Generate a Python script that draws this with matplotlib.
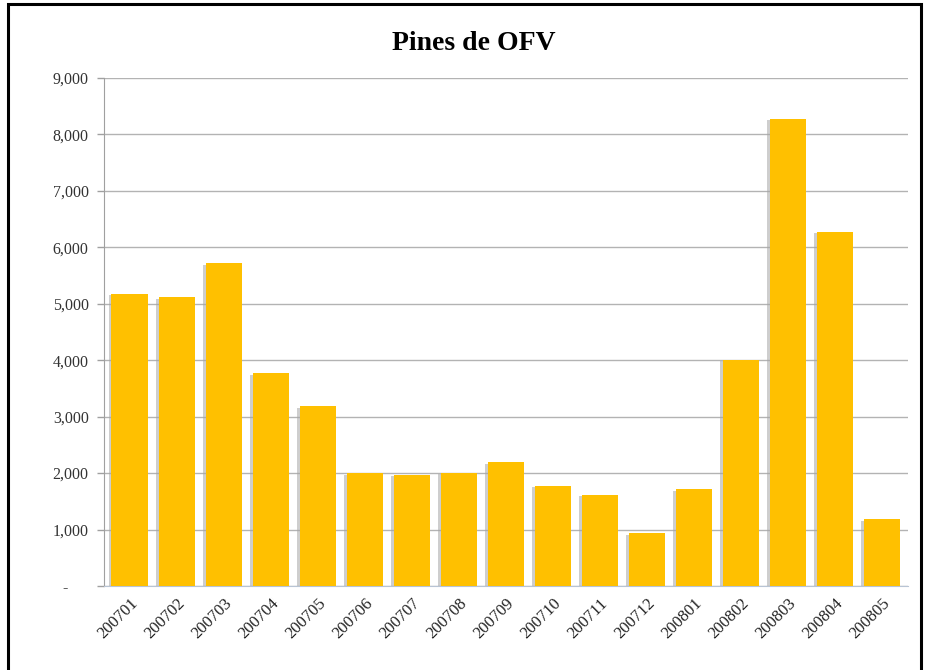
import matplotlib.pyplot as plt
import numpy as np
from matplotlib.ticker import FuncFormatter
from matplotlib.patches import Rectangle

periods = ['200701', '200702', '200703', '200704', '200705', '200706',
           '200707', '200708', '200709', '200710', '200711', '200712',
           '200801', '200802', '200803', '200804', '200805']
pines = [5180, 5120, 5720, 3770, 3180, 2000, 1970, 2010, 2190, 1780,
         1620, 930, 1710, 4010, 8280, 6280, 1180]

plt.rcParams['font.family'] = ['Liberation Serif', 'DejaVu Serif']

fig = plt.figure(figsize=(9.3, 6.7), dpi=100)
ax = fig.add_axes([0.1118, 0.1254, 0.8645, 0.7582])

x = np.arange(len(periods))
# grey drop shadow to the left of each bar
ax.bar(x - 0.06, np.array(pines) - 30, width=0.78, color='#a6a6a6', alpha=0.55, zorder=2)
ax.bar(x, pines, width=0.78, color='#FFC000', zorder=3)

ax.set_xlim(-0.55, len(periods) - 0.45)
ax.set_ylim(0, 9000)
ax.set_yticks(np.arange(0, 9001, 1000))
# accounting style: zero shown as a dash, set in from the right
ax.yaxis.set_major_formatter(FuncFormatter(lambda v, p: '-     ' if v == 0 else f'{int(v):,}'))
ax.grid(axis='y', color='#b3b3b3', linewidth=1, zorder=0)

ax.set_xticks(x)
ax.set_xticklabels(periods, rotation=45, ha='right', rotation_mode='anchor',
                   fontsize=12, color='#222222')
ax.tick_params(axis='x', length=0, pad=7)
ax.tick_params(axis='y', length=5, width=1, color='#a0a0a0', pad=6,
               labelsize=11.5, labelcolor='#333333')

for s in ['top', 'right']:
    ax.spines[s].set_visible(False)
ax.spines['left'].set_color('#a0a0a0')
ax.spines['bottom'].set_color('#b8c4d4')

fig.text(0.51, 0.935, 'Pines de OFV', ha='center', va='center',
         fontsize=20, fontweight='bold', color='black')

# black frame around the picture
fig.patches.append(Rectangle((8 / 930, -0.01), 913 / 930, 1 - 4 / 670 + 0.01,
                             transform=fig.transFigure, fill=False,
                             edgecolor='black', linewidth=2.2))

fig.savefig('out.png', dpi=100)
